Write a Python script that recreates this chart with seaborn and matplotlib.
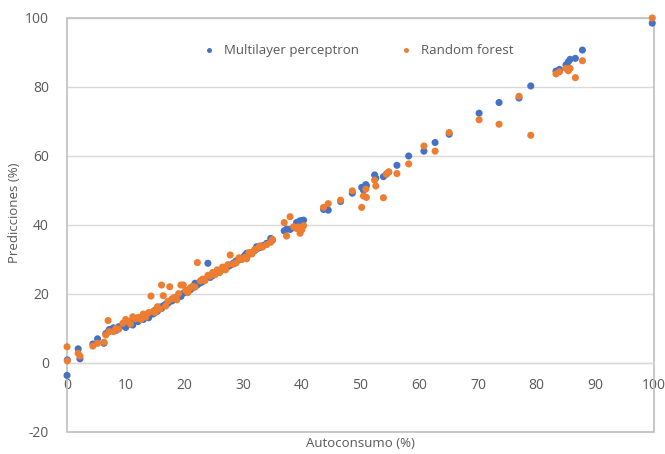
import matplotlib
matplotlib.use("Agg")
import matplotlib.pyplot as plt
from matplotlib.patches import Rectangle
import seaborn as sns
import pandas as pd

# Actual self-consumption values (%)
actual = [0.0, 0.05, 1.9, 2.2, 4.4, 5.2, 6.3, 6.6, 7.0, 7.2, 7.9, 8.3, 8.8, 9.5,
          10.0, 10.4, 10.8, 11.2, 11.7, 12.1, 12.6, 13.0, 13.4, 13.9, 14.3, 14.7,
          15.0, 15.4, 15.8, 16.1, 16.4, 16.8, 17.2, 17.5, 17.9, 18.3, 18.7, 19.0,
          19.4, 19.8, 20.2, 20.6, 21.0, 21.4, 21.8, 22.2, 22.7, 23.1, 23.5, 24.0,
          24.4, 24.8, 25.2, 25.6, 26.0, 26.5, 27.0, 27.4, 27.8, 28.3, 28.8, 29.3,
          29.8, 30.3, 30.6, 31.0, 31.5, 32.0, 32.3, 32.8, 33.3, 34.0, 34.7, 35.0,
          37.0, 37.4, 38.0, 38.6, 39.1, 39.4, 39.7, 40.0, 40.3, 43.7, 44.5, 46.6,
          48.6, 50.2, 50.5, 50.9, 51.0, 52.4, 52.6, 53.9, 54.4, 54.8, 56.2, 58.2,
          60.8, 62.7, 65.1, 70.2, 73.6, 77.0, 79.0, 83.3, 83.9, 85.0, 85.4, 85.7,
          86.6, 87.8, 99.7]

mlp_pred = [-3.6, 0.9, 4.1, 1.2, 5.5, 7.0, 5.7, 8.5, 9.0, 9.7, 10.2, 9.4, 10.5, 10.8,
            10.3, 11.2, 12.0, 11.0, 12.4, 12.0, 13.0, 12.6, 13.8, 13.1, 14.4, 14.2,
            15.3, 15.0, 16.2, 15.8, 16.6, 17.0, 17.3, 17.9, 18.0, 18.5, 18.9, 19.4,
            19.3, 20.2, 20.5, 21.0, 21.2, 21.8, 23.1, 22.6, 23.2, 23.6, 24.2, 28.9,
            24.8, 25.3, 25.7, 26.2, 26.5, 27.1, 27.5, 27.9, 28.3, 28.9, 29.6, 29.9,
            30.4, 31.2, 31.8, 31.5, 32.0, 32.6, 33.7, 33.4, 34.0, 34.7, 36.1, 35.6,
            38.3, 38.8, 38.7, 39.2, 40.7, 40.9, 41.2, 41.3, 41.4, 44.5, 44.3, 46.8,
            49.2, 50.9, 50.1, 51.7, 51.4, 54.5, 53.6, 54.0, 54.8, 55.3, 57.3, 60.0,
            61.4, 63.9, 66.3, 72.4, 75.5, 76.8, 80.3, 84.6, 85.1, 86.4, 87.3, 88.0,
            88.3, 90.7, 98.5]

rf_pred = [4.7, 0.6, 2.8, 2.0, 4.9, 5.7, 6.0, 8.1, 12.3, 9.1, 9.1, 10.0, 9.8, 11.5,
           12.6, 12.0, 11.3, 13.4, 12.8, 13.2, 12.6, 14.2, 13.3, 14.6, 19.4, 15.0,
           14.6, 16.3, 15.6, 22.6, 19.5, 16.5, 17.9, 22.1, 18.6, 19.0, 18.3, 20.1,
           22.6, 22.6, 21.0, 20.4, 21.8, 22.2, 22.0, 29.1, 23.8, 24.3, 23.9, 25.4,
           25.2, 26.2, 25.6, 27.0, 26.2, 27.8, 27.0, 28.5, 31.3, 28.6, 29.0, 30.5,
           30.0, 30.6, 30.2, 32.0, 31.6, 32.9, 33.0, 33.9, 33.6, 34.3, 35.0, 35.8,
           40.7, 36.8, 42.4, 39.5, 39.0, 39.4, 37.6, 38.6, 39.8, 45.1, 46.2, 47.2,
           49.9, 45.1, 48.4, 50.4, 48.0, 53.0, 51.3, 47.9, 54.7, 55.4, 54.9, 57.7,
           62.9, 61.4, 66.8, 70.5, 69.2, 77.3, 66.0, 83.8, 84.4, 85.4, 84.7, 85.4,
           82.7, 87.6, 100.0]

series_names = ["Multilayer perceptron", "Random forest"]
y_ticks = [-20, 0, 20, 40, 60, 80, 100]
x_ticks = [0, 10, 20, 30, 40, 50, 60, 70, 80, 90, 100]

df = pd.DataFrame({
    "Autoconsumo": actual * 2,
    "Prediccion": mlp_pred + rf_pred,
    "Modelo": [series_names[0]] * len(actual) + [series_names[1]] * len(actual),
})

sns.set_style("white")
plt.rcParams["font.family"] = ["Open Sans", "DejaVu Sans"]

text_col = "#595959"
grid_col = "#d9d9d9"

fig = plt.figure(figsize=(6.65, 4.54), dpi=100)
ax = fig.add_axes([0.1008, 0.0485, 0.8827, 0.9119])

sns.scatterplot(data=df, x="Autoconsumo", y="Prediccion", hue="Modelo",
                palette=["#4472C4", "#ED7D31"], s=26, linewidth=0,
                ax=ax, clip_on=False, zorder=3)

ax.set_xlim(0, 100)
ax.set_ylim(-20, 100)
ax.set_yticks(y_ticks)
ax.set_xticks(x_ticks)
ax.set_yticklabels([str(v) for v in y_ticks])
ax.set_xticklabels([str(v) for v in x_ticks])

for sp in ["top", "right", "left"]:
    ax.spines[sp].set_visible(False)
ax.spines["bottom"].set_position(("data", 0))
ax.spines["bottom"].set_color(grid_col)
ax.spines["bottom"].set_linewidth(1.0)

ax.grid(axis="y", color=grid_col, linewidth=1.0, zorder=0)
ax.grid(axis="x", visible=False)
ax.set_axisbelow(True)

ax.add_patch(Rectangle((0, 0), 1, 1, transform=ax.transAxes, fill=False,
                       edgecolor="#bfbfbf", linewidth=1.2, clip_on=False, zorder=1))

ax.tick_params(axis="both", length=0, labelsize=10, labelcolor=text_col)
ax.tick_params(axis="x", pad=11)
ax.tick_params(axis="y", pad=13)

ax.set_xlabel("Autoconsumo (%)", fontsize=9.5, color=text_col)
ax.set_ylabel("Predicciones (%)", fontsize=9.5, color=text_col)
ax.xaxis.set_label_coords(0.5, -0.012)
ax.yaxis.set_label_coords(-0.078, 0.53)

leg = ax.legend(loc="upper center", bbox_to_anchor=(0.49, 0.965), ncol=2,
                frameon=False, fontsize=9.5, markerscale=0.7, handletextpad=0.1,
                columnspacing=2.6, title=None)
for t in leg.get_texts():
    t.set_color(text_col)

fig.savefig("out.png", dpi=100)
